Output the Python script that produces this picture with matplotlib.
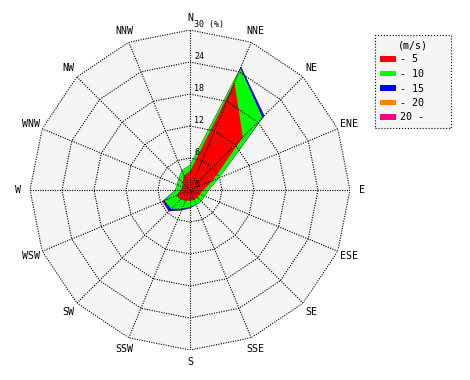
import numpy as np
import matplotlib
matplotlib.use('Agg')
import matplotlib.pyplot as plt
from matplotlib.patches import Patch

directions = ['N', 'NNE', 'NE', 'ENE', 'E', 'ESE', 'SE', 'SSE',
              'S', 'SSW', 'SW', 'WSW', 'W', 'WNW', 'NW', 'NNW']
# frequency (%) per speed class, per direction
f_5 = [3.5, 21.8, 14.0, 4.6, 2.5, 2.0, 2.0, 2.0, 2.0, 2.2, 2.5, 2.8, 1.8, 1.5, 2.0, 3.0]
f_10 = [1.2, 2.9, 5.2, 1.3, 1.0, 1.0, 1.0, 1.0, 1.2, 1.6, 2.5, 2.4, 1.0, 1.1, 1.0, 1.0]
f_15 = [0.0, 0.3, 0.5, 0.0, 0.0, 0.0, 0.0, 0.0, 0.2, 0.3, 0.6, 0.3, 0.0, 0.0, 0.0, 0.0]
f_20 = [0.0, 0.0, 0.0, 0.0, 0.0, 0.0, 0.0, 0.0, 0.0, 0.0, 0.0, 0.2, 0.0, 0.0, 0.0, 0.0]
f_over = [0.0] * 16
classes = ['- 5', '- 10', '- 15', '- 20', '20 -']
colors = ['#ff0000', '#00ff00', '#0000ff', '#ff8000', '#ff0080']
rings = [6, 12, 18, 24, 30]

plt.rcParams['font.family'] = ['DejaVu Sans Mono']

fig = plt.figure(figsize=(4.7, 3.8), dpi=100)
ax = fig.add_axes([0.0638, 0.0789, 0.6809, 0.8421], projection='polar')
ax.set_theta_zero_location('N')
ax.set_theta_direction(-1)
ax.set_ylim(0, 30)
ax.grid(False)
ax.set_xticks([])
ax.set_yticks([])
ax.spines['polar'].set_visible(False)
ax.patch.set_visible(False)

theta = np.deg2rad(np.arange(16) * 22.5)
tc = np.append(theta, theta[0])

# background polygon
ax.fill(tc, [30] * 17, color='#f5f5f5', zorder=0, lw=0)

# stacked filled areas, outermost first
cum = np.cumsum([f_5, f_10, f_15, f_20, f_over], axis=0)
for i in range(4, -1, -1):
    r = np.append(cum[i], cum[i][0])
    ax.fill(tc, r, color=colors[i], lw=0, zorder=1 + (4 - i))

# polygon grid
dot = (0, (1, 1.2))
for rv in rings:
    ax.plot(tc, [rv] * 17, color='black', lw=0.8, ls=dot, zorder=10)
for t in theta:
    ax.plot([t, t], [0, 30], color='black', lw=0.8, ls=dot, zorder=10)

# direction labels
for t, d in zip(theta, directions):
    ax.text(t, 32.25, d, ha='center', va='center', fontsize=7.2, clip_on=False)

# ring labels
for rv in [0] + rings[:-1]:
    ax.annotate(str(rv), xy=(0, rv), xytext=(3, 0.5), textcoords='offset points',
                ha='left', va='bottom', fontsize=6, zorder=11)
ax.annotate('30 (%)', xy=(0, 30), xytext=(3, 0.5), textcoords='offset points',
            ha='left', va='bottom', fontsize=6, zorder=11, annotation_clip=False)

handles = [Patch(facecolor=c, edgecolor='none') for c in colors]
leg = fig.legend(handles, classes, title='(m/s)', loc='upper left',
                 bbox_to_anchor=(375 / 470, 1 - 130 / 380, 76 / 470, 95 / 380),
                 mode='expand', fontsize=7.2, title_fontsize=7.2,
                 handlelength=1.6, handleheight=0.5, handletextpad=0.4,
                 labelspacing=0.45, borderpad=0.5, borderaxespad=0, fancybox=False)
leg.get_frame().set_facecolor('#f5f5f5')
leg.get_frame().set_edgecolor('black')
leg.get_frame().set_linestyle(':')
leg.get_frame().set_linewidth(0.8)
leg.get_frame().set_alpha(1)

fig.savefig('out.png', dpi=100, facecolor='white')
